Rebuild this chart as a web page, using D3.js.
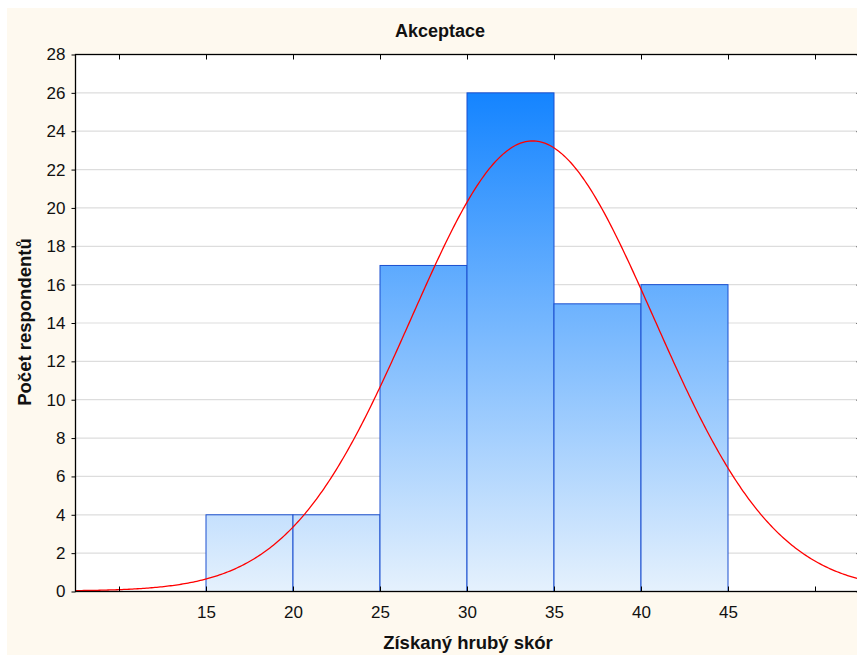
<!DOCTYPE html>
<html>
<head>
<meta charset="utf-8">
<script src="https://cdn.jsdelivr.net/npm/d3@7"></script>
<style>
  html, body { margin: 0; padding: 0; background: #ffffff; }
  svg { display: block; font-family: Arial, "Liberation Sans", sans-serif; }
</style>
</head>
<body>
<svg id="chart" width="857" height="655"></svg>
<script>
// ---- data ----
const binStarts = [15, 20, 25, 30, 35, 40];
const binWidth = 5;
const counts = [4, 4, 17, 26, 15, 16];
const xTickMarks = [10, 15, 20, 25, 30, 35, 40, 45, 50];
const xTickLabels = [15, 20, 25, 30, 35, 40, 45];
const yTicks = [0, 2, 4, 6, 8, 10, 12, 14, 16, 18, 20, 22, 24, 26, 28];
const fitMean = 33.8;
const fitSd = 6.97;
const totalN = 82;
const titleText = "Akceptace";
const xLabel = "Získaný hrubý skór";
const yLabel = "Počet respondentů";

(function () {
// ---- layout ----
const svg = d3.select("#chart");
const L = 75, R = 858, T = 54, B = 591;

svg.append("rect").attr("x", 7).attr("y", 8).attr("width", 850).attr("height", 647)
  .attr("fill", "#fef9ef");

const x = d3.scaleLinear().domain([7.5, 52.5]).range([L, R]);
const y = d3.scaleLinear().domain([0, 28]).range([B, T]);

// plot background
svg.append("rect").attr("x", L).attr("y", T).attr("width", R - L).attr("height", B - T)
  .attr("fill", "#ffffff");

// gradient
const defs = svg.append("defs");
const grad = defs.append("linearGradient").attr("id", "barGrad")
  .attr("gradientUnits", "userSpaceOnUse")
  .attr("x1", 0).attr("x2", 0).attr("y1", y(26)).attr("y2", y(0));
grad.append("stop").attr("offset", "0%").attr("stop-color", "#1484ff");
grad.append("stop").attr("offset", "100%").attr("stop-color", "#e5f1fd");

// gridlines
svg.append("g").selectAll("line").data(yTicks.filter(d => d > 0 && d < 28)).join("line")
  .attr("x1", L).attr("x2", R).attr("y1", d => y(d) + 0.5).attr("y2", d => y(d) + 0.5)
  .attr("stroke", "#dddddd").attr("stroke-width", 1.2);

// bars
const bins = binStarts.map((s, i) => ({ x0: s, x1: s + binWidth, c: counts[i] }));
svg.append("g").selectAll("rect").data(bins).join("rect")
  .attr("x", d => x(d.x0) + 0.5)
  .attr("y", d => y(d.c) + 0.5)
  .attr("width", d => x(d.x1) - x(d.x0))
  .attr("height", d => y(0) - y(d.c))
  .attr("fill", "url(#barGrad)")
  .attr("stroke", "#1a4fcf").attr("stroke-width", 1);

// normal fit curve
const curveX = d3.range(7.5, 52.55, 0.1);
const normal = v => totalN * binWidth / (fitSd * Math.sqrt(2 * Math.PI)) *
  Math.exp(-0.5 * Math.pow((v - fitMean) / fitSd, 2));
svg.append("path")
  .datum(curveX)
  .attr("d", d3.line().x(d => x(d)).y(d => y(normal(d))))
  .attr("fill", "none").attr("stroke", "#ff0000").attr("stroke-width", 1.3);

// frame
svg.append("rect").attr("x", L + 0.5).attr("y", T + 0.5).attr("width", R - L).attr("height", B - T)
  .attr("fill", "none").attr("stroke", "#000").attr("stroke-width", 1.3);

// axes
const axB = svg.append("g").attr("transform", `translate(0.5,${B + 0.5})`)
  .call(d3.axisBottom(x).tickValues(xTickMarks).tickSizeInner(-5).tickSizeOuter(0)
    .tickFormat(d => xTickLabels.includes(d) ? d : ""));
axB.select(".domain").remove();
axB.selectAll("text").attr("dy", 0).attr("y", 26)
  .attr("font-size", 17).attr("fill", "#111").attr("font-family", "Arial, 'Liberation Sans', sans-serif");

const axT = svg.append("g").attr("transform", `translate(0.5,${T + 0.5})`)
  .call(d3.axisTop(x).tickValues(xTickMarks).tickSizeInner(-5).tickSizeOuter(0).tickFormat(""));
axT.select(".domain").remove();

const axL = svg.append("g").attr("transform", `translate(${L + 0.5},0.5)`)
  .call(d3.axisLeft(y).tickValues(yTicks).tickSizeInner(4).tickSizeOuter(0).tickPadding(6));
axL.select(".domain").remove();
axL.selectAll("text").attr("font-size", 17).attr("fill", "#111")
  .attr("font-family", "Arial, 'Liberation Sans', sans-serif");

const axR = svg.append("g").attr("transform", `translate(${R - 1.5},0.5)`)
  .call(d3.axisRight(y).tickValues(yTicks).tickSizeInner(3).tickSizeOuter(0).tickFormat(""));
axR.select(".domain").remove();

// titles
svg.append("text").attr("x", 440).attr("y", 37).attr("text-anchor", "middle")
  .attr("font-size", 18).attr("font-weight", "bold").attr("fill", "#111").text(titleText);
svg.append("text").attr("x", 468).attr("y", 649).attr("text-anchor", "middle")
  .attr("font-size", 18.5).attr("font-weight", "bold").attr("fill", "#111").text(xLabel);
svg.append("text").attr("transform", "translate(31,322) rotate(-90)").attr("text-anchor", "middle")
  .attr("font-size", 18.5).attr("font-weight", "bold").attr("fill", "#111").text(yLabel);
})();
</script>
</body>
</html>
